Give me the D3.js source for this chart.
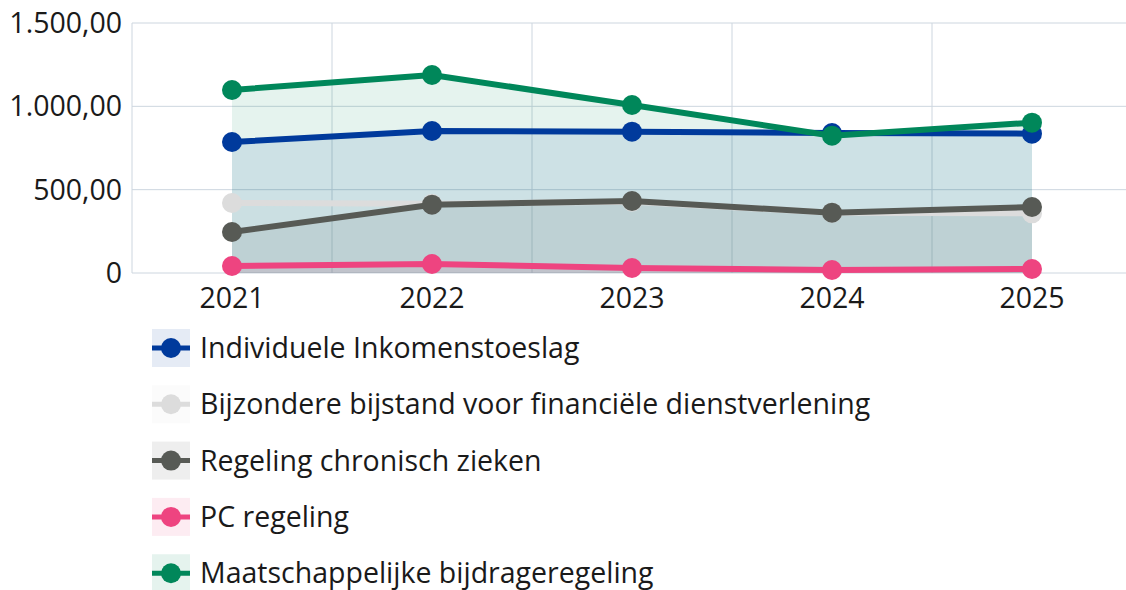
<!DOCTYPE html>
<html>
<head>
<meta charset="utf-8">
<script src="https://cdn.jsdelivr.net/npm/d3@7"></script>
<style>
  body { margin: 0; background: #fff; overflow: hidden; }
  text { font-family: "Open Sans", "Noto Sans", sans-serif; fill: #1a1a1a; }
</style>
</head>
<body>
<svg id="chart" width="1126" height="590"></svg>
<script>
const years = ["2021", "2022", "2023", "2024", "2025"];
const seriesNames = [
    "Individuele Inkomenstoeslag",
    "Bijzondere bijstand voor financiële dienstverlening",
    "Regeling chronisch zieken",
    "PC regeling",
    "Maatschappelijke bijdrageregeling"
];
const seriesColors = ["#003a9c", "#dcdcdc", "#575a55", "#ee4480", "#00875a"];
const inkomenstoeslag = [786, 852, 848, 840, 836];
const bijzondereBijstand = [420, 415, 428, 362, 358];
const chronischZieken = [246, 410, 432, 362, 396];
const pcRegeling = [42, 54, 30, 18, 24];
const maatschappelijk = [1098, 1188, 1008, 824, 902];
const yTicks = [0, 500, 1000, 1500];

const allSeries = [inkomenstoeslag, bijzondereBijstand, chronischZieken, pcRegeling, maatschappelijk];

const nl = d3.formatLocale({ decimal: ",", thousands: ".", grouping: [3], currency: ["€", ""] });
const fmt = v => v === 0 ? "0" : nl.format(",.2f")(v);

const svg = d3.select("#chart");
const plotLeft = 132, plotRight = 1132, plotTop = 23, plotBottom = 273;
const fontSize = 28.5;

const x = d3.scaleBand().domain(years).range([plotLeft, plotRight]);
const y = d3.scaleLinear().domain([0, 1500]).range([plotBottom, plotTop]);
const cx = d => x(d) + x.bandwidth() / 2;

// grid
svg.append("g").selectAll("line")
    .data(yTicks)
    .enter().append("line")
    .attr("x1", plotLeft).attr("x2", 1126)
    .attr("y1", d => y(d)).attr("y2", d => y(d))
    .attr("stroke", "#cdd6df").attr("stroke-width", 1);

svg.append("g").selectAll("line")
    .data(years.slice(1))
    .enter().append("line")
    .attr("x1", d => x(d))
    .attr("x2", d => x(d))
    .attr("y1", plotTop).attr("y2", plotBottom)
    .attr("stroke", "#cdd6df").attr("stroke-width", 1);

svg.append("line")
    .attr("x1", plotLeft).attr("x2", plotLeft)
    .attr("y1", plotTop).attr("y2", plotBottom)
    .attr("stroke", "#cdd6df");

// axes labels
svg.append("g").selectAll("text")
    .data(yTicks)
    .enter().append("text")
    .attr("x", 122)
    .attr("y", d => y(d))
    .attr("dy", "0.35em")
    .attr("text-anchor", "end")
    .attr("font-size", fontSize)
    .text(fmt);

svg.append("g").selectAll("text")
    .data(years)
    .enter().append("text")
    .attr("x", d => cx(d))
    .attr("y", 308)
    .attr("text-anchor", "middle")
    .attr("font-size", fontSize)
    .text(d => d);

// areas
const area = d3.area()
    .x((d, i) => cx(years[i]))
    .y0(y(0))
    .y1(d => y(d));

svg.append("g").selectAll("path")
    .data(allSeries)
    .enter().append("path")
    .attr("d", area)
    .attr("fill", (d, i) => seriesColors[i])
    .attr("fill-opacity", 0.1);

// lines + dots
const line = d3.line()
    .x((d, i) => cx(years[i]))
    .y(d => y(d));

allSeries.forEach((vals, si) => {
    const g = svg.append("g");
    g.append("path")
        .attr("d", line(vals))
        .attr("fill", "none")
        .attr("stroke", seriesColors[si])
        .attr("stroke-width", 6)
        .attr("stroke-linejoin", "round");
    g.selectAll("circle")
        .data(vals)
        .enter().append("circle")
        .attr("cx", (d, i) => cx(years[i]))
        .attr("cy", d => y(d))
        .attr("r", 10)
        .attr("fill", seriesColors[si]);
});

// legend
const legend = svg.append("g").selectAll("g")
    .data(seriesNames)
    .enter().append("g")
    .attr("transform", (d, i) => `translate(152, ${348 + i * 56.3})`);

legend.append("rect")
    .attr("x", 0).attr("y", -19)
    .attr("width", 38).attr("height", 38)
    .attr("fill", (d, i) => seriesColors[i])
    .attr("fill-opacity", 0.1);

legend.append("line")
    .attr("x1", 0).attr("x2", 38)
    .attr("y1", 0).attr("y2", 0)
    .attr("stroke", (d, i) => seriesColors[i])
    .attr("stroke-width", 5);

legend.append("circle")
    .attr("cx", 19).attr("cy", 0).attr("r", 10)
    .attr("fill", (d, i) => seriesColors[i]);

legend.append("text")
    .attr("x", 48)
    .attr("y", 0)
    .attr("dy", "0.35em")
    .attr("font-size", fontSize)
    .text(d => d);
</script>
</body>
</html>
